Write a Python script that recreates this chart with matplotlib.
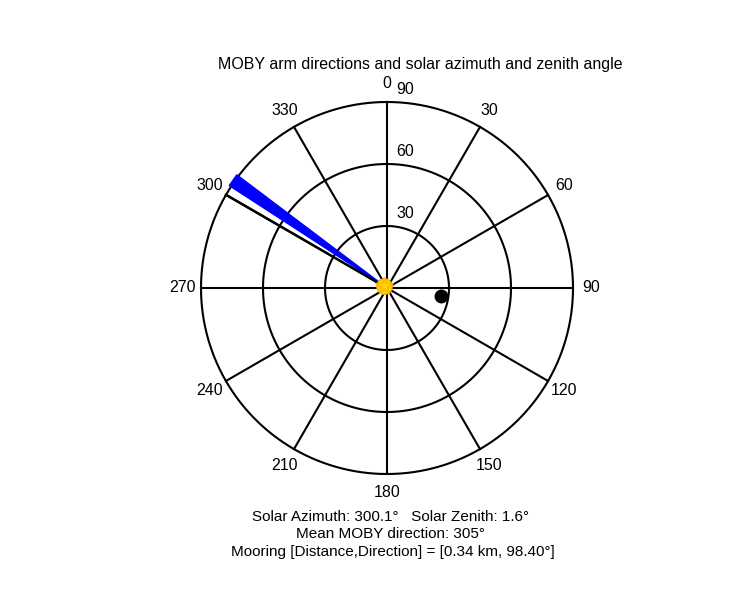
import numpy as np
import matplotlib.pyplot as plt

plt.rcParams['font.family'] = ['Liberation Sans', 'DejaVu Sans']

# data
solar_azimuth = 300.1
solar_zenith = 1.6
moby_dirs = [303.0, 307.0]      # arm direction spread (deg)
moby_mean = 305
mooring_dist_km = 0.34
mooring_dir = 98.40
mooring_r = 26.3                # plotted radius of mooring marker
r_ticks = [30, 60, 90]
theta_ticks = np.arange(0, 360, 30)
rmax = 90

fs = 11.5

fig = plt.figure(figsize=(7.5, 6), dpi=100)
ax = fig.add_axes([0.268, 0.21, 0.496, 0.62], projection='polar')
ax.set_theta_zero_location('N')
ax.set_theta_direction(-1)
ax.set_ylim(0, rmax)
ax.grid(False)
ax.set_xticks([])
ax.set_yticks([])
ax.spines['polar'].set_visible(False)
ax.patch.set_alpha(0)

# circles and spokes
circ = np.linspace(0, 2 * np.pi, 361)
for r in r_ticks:
    ax.plot(circ, np.full_like(circ, r), color='k', lw=1.5, clip_on=False)
for t in theta_ticks:
    ax.plot([np.deg2rad(t), np.deg2rad(t)], [0, rmax], color='k', lw=1.5,
            clip_on=False)

# angle labels
for t in theta_ticks:
    ax.text(np.deg2rad(t), rmax * 1.1, str(t), ha='center', va='center',
            fontsize=fs, clip_on=False)
# radius labels
for r in r_ticks:
    ax.annotate(str(r), xy=(0, r), xytext=(7, 9), textcoords='offset points',
                ha='left', va='center', fontsize=fs, annotation_clip=False)

# MOBY arm wedge
th = np.deg2rad([moby_dirs[0], moby_dirs[0], moby_dirs[1]])
ax.fill(th, [0, rmax + 1, rmax + 1], color='#0000ff', zorder=3, clip_on=False)

# solar azimuth line
ax.plot([np.deg2rad(solar_azimuth)] * 2, [0, rmax], color='k', lw=1.7,
        zorder=3, clip_on=False)

# mooring
ax.plot(np.deg2rad(mooring_dir), mooring_r, 'o', color='k', ms=9, zorder=4)

# sun
ax.plot(np.deg2rad(solar_azimuth), solar_zenith, 'o', color='#ffd700',
        mec='#ffb000', ms=11, zorder=5, clip_on=False)
ax.plot(np.deg2rad(solar_azimuth), solar_zenith, '*', color='#ffd700',
        mec='#ffb000', ms=13, zorder=5, clip_on=False)

fig.text(420 / 750, 1 - 64 / 600,
         'MOBY arm directions and solar azimuth and zenith angle',
         ha='center', va='center', fontsize=fs)

fs_info = 11
fig.text(390 / 750, 1 - 517 / 600,
         f'Solar Azimuth: {solar_azimuth:.1f}°   Solar Zenith: {solar_zenith:.1f}°',
         ha='center', va='center', fontsize=fs_info)
fig.text(390 / 750, 1 - 534.5 / 600, f'Mean MOBY direction: {moby_mean}°',
         ha='center', va='center', fontsize=fs_info)
fig.text(393 / 750, 1 - 552 / 600,
         f'Mooring [Distance,Direction] = [{mooring_dist_km:.2f} km, {mooring_dir:.2f}°]',
         ha='center', va='center', fontsize=fs_info)

fig.savefig('out.png', dpi=100)
